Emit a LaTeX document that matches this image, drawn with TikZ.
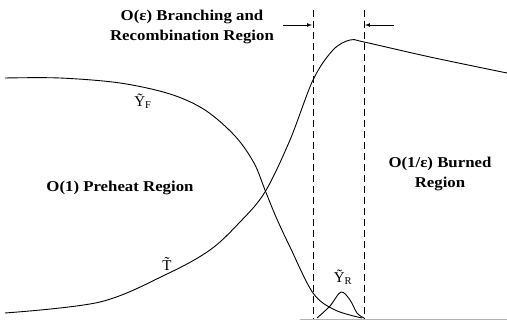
\documentclass[tikz,border=0pt]{standalone}
\usepackage{fontspec}
\setmainfont[FakeStretch=1.12]{Liberation Serif}
\newfontfamily\symfont{Liberation Serif}
\begin{document}
\begin{tikzpicture}[x=1pt,y=-1pt,
  curve/.style={line width=0.9pt,smooth,tension=0.55},
  divider/.style={line width=0.8pt,dash pattern=on 7pt off 4pt},
  lbl/.style={font=\bfseries\fontsize{15}{20}\selectfont,align=center,inner sep=0pt},
  sym/.style={inner sep=0pt,font=\symfont\fontsize{15}{17}\selectfont},
  marker/.style={-latex,line width=0.7pt}]
\useasboundingbox (0,0) rectangle (507,320);
% dividers
\coordinate (d1t) at (313,10); \coordinate (d1b) at (313,320);
\coordinate (d2t) at (364,10); \coordinate (d2b) at (364,320);
\draw[divider] (d1t) -- (d1b);
\draw[divider] (d2t) -- (d2b);
% arrows
\coordinate (a1s) at (283,25); \coordinate (a1e) at (312,25);
\coordinate (a2s) at (394,25); \coordinate (a2e) at (365,25);
\draw[marker] (a1s) -- (a1e);
\draw[marker] (a2s) -- (a2e);
% baseline
\coordinate (b1) at (300,319); \coordinate (b2) at (507,319);
\draw[gray!60,line width=0.5pt] (b1) -- (b2);
% T curve
\draw[curve] plot coordinates {(5,313) (100,302) (167,274) (210,250) (240,222) (265,192) (290,140) (313,80) (333,50) (350,40) (364,42) (430,57) (507,73)};
% Y_F curve
\draw[curve] plot coordinates {(5,78) (60,78) (120,83) (170,94) (205,110) (235,136) (254,163) (265,190) (276,217) (290,247) (313,293) (335,310) (362,318)};
% Y_R bump
\draw[curve] plot coordinates {(317,318) (330,306) (341,292) (350,300) (357,313) (364,318)};
% labels
\node[lbl] (branch) at (192,27) {O(ε) Branching and\\Recombination Region};
\node[lbl] (preheat) at (120,188) {O(1) Preheat Region};
\node[lbl] (burned) at (440,174) {O(1/ε) Burned\\Region};
\node[sym] (yf) at (143,101) {Ỹ\textsubscript{F}};
\node[sym] (tt) at (167,264) {T̃};
\node[sym] (yr) at (343,277) {Ỹ\textsubscript{R}};
\end{tikzpicture}
\end{document}
